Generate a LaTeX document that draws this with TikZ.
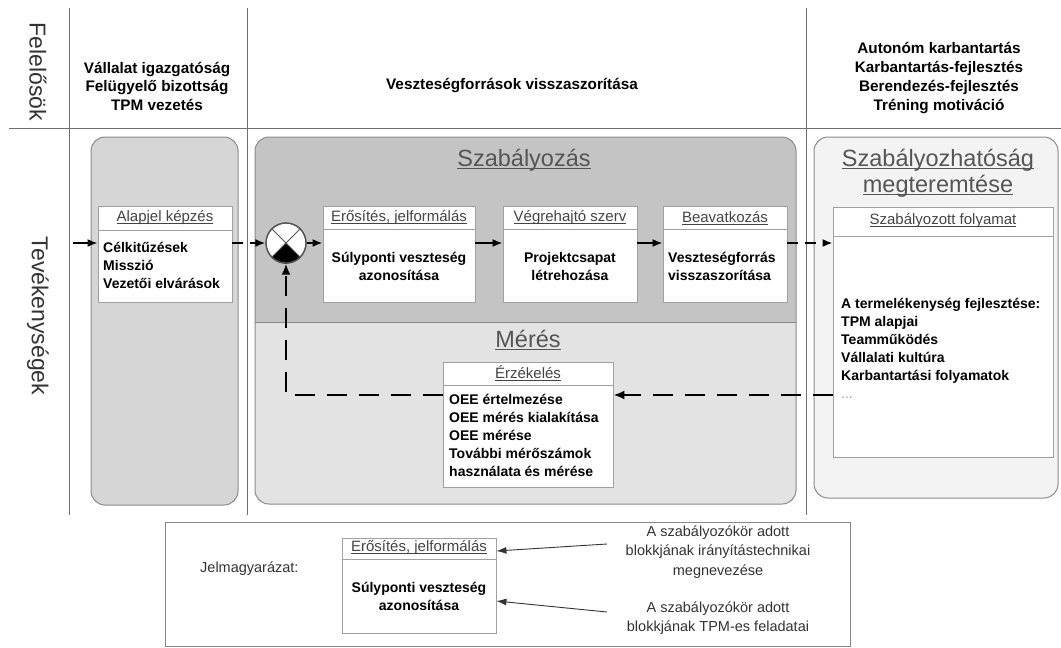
\documentclass[tikz,border=0pt]{standalone}
\usepackage{fontspec}
\setmainfont{Liberation Sans}
\usetikzlibrary{arrows.meta}
\definecolor{gridc}{HTML}{707070}
\definecolor{panelc}{HTML}{8A8A8A}
\definecolor{leftfill}{HTML}{D6D6D6}
\definecolor{midup}{HTML}{C4C4C4}
\definecolor{midlow}{HTML}{E3E3E3}
\definecolor{rightfill}{HTML}{F3F3F3}
\definecolor{boxc}{HTML}{A0A0A0}
\definecolor{hdrc}{HTML}{444444}
\definecolor{titc}{HTML}{555555}
\definecolor{legc}{HTML}{333333}
\definecolor{sumc}{HTML}{555555}
\newcommand\hul[1]{\setbox0\hbox{#1}\rlap{\rule[-2pt]{\wd0}{0.7pt}}\box0}
\newcommand\tul[1]{\setbox0\hbox{#1}\rlap{\rule[-3.2pt]{\wd0}{1.1pt}}\box0}
\begin{document}
\begin{tikzpicture}[x=1pt,y=-1pt,
  blk/.style={draw=boxc, fill=white, line width=0.8pt, inner sep=0pt},
  hline/.style={draw=boxc, line width=0.8pt},
  hdr/.style={font=\fontsize{15}{18}\selectfont, text=hdrc, inner sep=0pt},
  body/.style={font=\bfseries\fontsize{14}{18}\selectfont, inner sep=0pt},
  titl/.style={font=\fontsize{23.5}{26}\selectfont, text=titc, inner sep=0pt, align=center},
  side/.style={font=\fontsize{23}{26}\selectfont, text=legc, rotate=-90, inner sep=0pt},
  resp/.style={font=\bfseries\fontsize{15.3}{18.5}\selectfont, align=center, inner sep=0pt},
  gridln/.style={draw=gridc, line width=0.9pt},
  panel/.style={draw=panelc, line width=1pt, rounded corners=14pt},
  sarrow/.style={line width=2pt, -{Latex[length=10pt,width=8pt]}},
  darrow/.style={line width=2.6pt, dash pattern=on 20pt off 12pt, -{Latex[length=11pt,width=9pt]}},
  sdarrow/.style={line width=2.6pt, dash pattern=on 11pt off 7pt, -{Latex[length=10pt,width=8pt]}},
  larrow/.style={draw=legc, line width=0.9pt, -{Latex[length=10pt,width=7pt]}},
  legtext/.style={font=\fontsize{14.5}{19.5}\selectfont, text=legc, align=center, inner sep=0pt}
]
\useasboundingbox (0,0) rectangle (1061,648);
\fill[white] (0,0) rectangle (1061,648);

% grid
\draw[gridln] (9,128) -- (1061,128);
\draw[gridln] (69,8) -- (69,515);
\draw[gridln] (247,8) -- (247,515);
\draw[gridln] (806,8) -- (806,515);

% side labels
\node[side] (felel) at (38,72) {Felelősök};
\node[side] (tevek) at (38,316) {Tevékenységek};

% responsibles
\node[resp] (resp1) at (157,86) {Vállalat igazgatóság\\Felügyelő bizottság\\TPM vezetés};
\node[resp] (resp2) at (512,86) {Veszteségforrások visszaszorítása};
\node[resp, font=\bfseries\fontsize{15.3}{19}\selectfont] (resp3) at (939,78) {Autonóm karbantartás\\Karbantartás-fejlesztés\\Berendezés-fejlesztés\\Tréning motiváció};

% panels
\draw[panel, fill=leftfill] (91,137) rectangle (238,505);
\begin{scope}
  \clip[rounded corners=14pt] (255,137) rectangle (796,504);
  \fill[midlow] (255,137) rectangle (796,504);
  \fill[midup] (255,137) rectangle (796,322);
\end{scope}
\draw[draw=panelc, line width=1pt] (255,322) -- (796,322);
\draw[panel] (255,137) rectangle (796,504);
\draw[panel, fill=rightfill] (814,137) rectangle (1058,498);

% titles
\node[titl] (tszab) at (524,160) {\tul{Szabályozás}};
\node[titl] (tszabh) at (938,173) {\tul{Szabályozhatóság}\\\tul{megteremtése}};
\node[titl] (tmeres) at (528,340) {\tul{Mérés}};

% blocks
\node[blk, minimum width=134pt, minimum height=96pt] (alap) at (165,254) {};
\draw[hline] (98,230) -- (232,230);
\node[hdr] (alapH) at (165,218) {\hul{Alapjel képzés}};
\node[body, anchor=west, align=left] (alapB) at (103,265) {Célkitűzések\\Misszió\\Vezetői elvárások};

\node[blk, minimum width=152pt, minimum height=96pt] (b1) at (399,254) {};
\draw[hline] (323,229) -- (475,229);
\node[hdr] (b1H) at (399,218) {\hul{Erősítés, jelformálás}};
\node[body, align=center] (b1B) at (399,266) {Súlyponti veszteség\\azonosítása};

\node[blk, minimum width=134pt, minimum height=96pt] (b2) at (570,254) {};
\draw[hline] (503,229) -- (637,229);
\node[hdr] (b2H) at (570,218) {\hul{Végrehajtó szerv}};
\node[body, align=center] (b2B) at (570,266) {Projektcsapat\\létrehozása};

\node[blk, minimum width=124pt, minimum height=96pt] (b3) at (725,254) {};
\draw[hline] (663,229) -- (787,229);
\node[hdr] (b3H) at (725,218) {\hul{Beavatkozás}};
\node[body, anchor=west, align=left] (b3B) at (668,266) {Veszteségforrás\\visszaszorítása};

\node[blk, minimum width=220pt, minimum height=250pt] (rbox) at (943,332) {};
\draw[hline] (833,236) -- (1053,236);
\node[hdr] (rboxH) at (943,221) {\hul{Szabályozott folyamat}};
\node[body, anchor=west, align=left] (rboxB) at (841,348) {A termelékenység fejlesztése:\\TPM alapjai\\Teamműködés\\Vállalati kultúra\\Karbantartási folyamatok\\{\mdseries\color{boxc}...}};

\node[blk, minimum width=170pt, minimum height=125pt] (erz) at (528,424.5) {};
\draw[hline] (443,385) -- (613,385);
\node[hdr] (erzH) at (528,373) {\hul{Érzékelés}};
\node[body, anchor=west, align=left] (erzB) at (449,435) {OEE értelmezése\\OEE mérés kialakítása\\OEE mérése\\További mérőszámok\\használata és mérése};

% summing junction
\node[circle, draw=sumc, line width=1.2pt, fill=white, minimum size=40pt, inner sep=0pt] (sum) at (286,243) {};
\fill[black] (sum.center) -- (sum.-45) -- (sum.-60) -- (sum.-75) -- (sum.-90) -- (sum.-105) -- (sum.-120) -- (sum.-135) -- cycle;
\draw[sumc, line width=1pt] (sum.45) -- (sum.-135);
\draw[sumc, line width=1pt] (sum.135) -- (sum.-45);
\draw[sumc, line width=1.2pt] (sum.center) circle[radius=20pt];

% connectors
\coordinate (inp) at (73,243);
\draw[sarrow] (inp) -- (alap.west |- inp);
\draw[sdarrow] (alap.east |- sum) -- (sum.west);
\draw[sarrow] (sum.east) -- (b1.west |- sum);
\draw[sarrow] (b1.east |- sum) -- (b2.west |- sum);
\draw[sarrow] (b2.east |- sum) -- (b3.west |- sum);
\draw[sdarrow] (b3.east |- sum) -- (rbox.west |- sum);
\coordinate (fb) at (0,395);
\draw[darrow] (rbox.west |- fb) -- (erz.east |- fb);
\draw[darrow] (erz.west |- fb) -- (sum |- fb) -- (sum.south);

% legend
\draw[draw=panelc, line width=1pt, fill=white] (165,522) rectangle (850,646);
\node[legtext, anchor=west] (jel) at (200,569) {Jelmagyarázat:};
\node[blk, minimum width=154pt, minimum height=95pt] (lb) at (419,585.5) {};
\draw[hline] (342,559) -- (496,559);
\node[hdr] (lbH) at (419,548) {\hul{Erősítés, jelformálás}};
\node[body, align=center] (lbB) at (419,596) {Súlyponti veszteség\\azonosítása};
\node[legtext] (lt1) at (718,552) {A szabályozókör adott\\blokkjának irányítástechnikai\\megnevezése};
\node[legtext] (lt2) at (718,618) {A szabályozókör adott\\blokkjának TPM-es feladatai};
\coordinate (la1) at (607,544);
\coordinate (la2) at (607,612);
\draw[larrow] (la1) -- (lb.east |- 0,551);
\draw[larrow] (la2) -- (lb.east |- 0,601);
\end{tikzpicture}
\end{document}
